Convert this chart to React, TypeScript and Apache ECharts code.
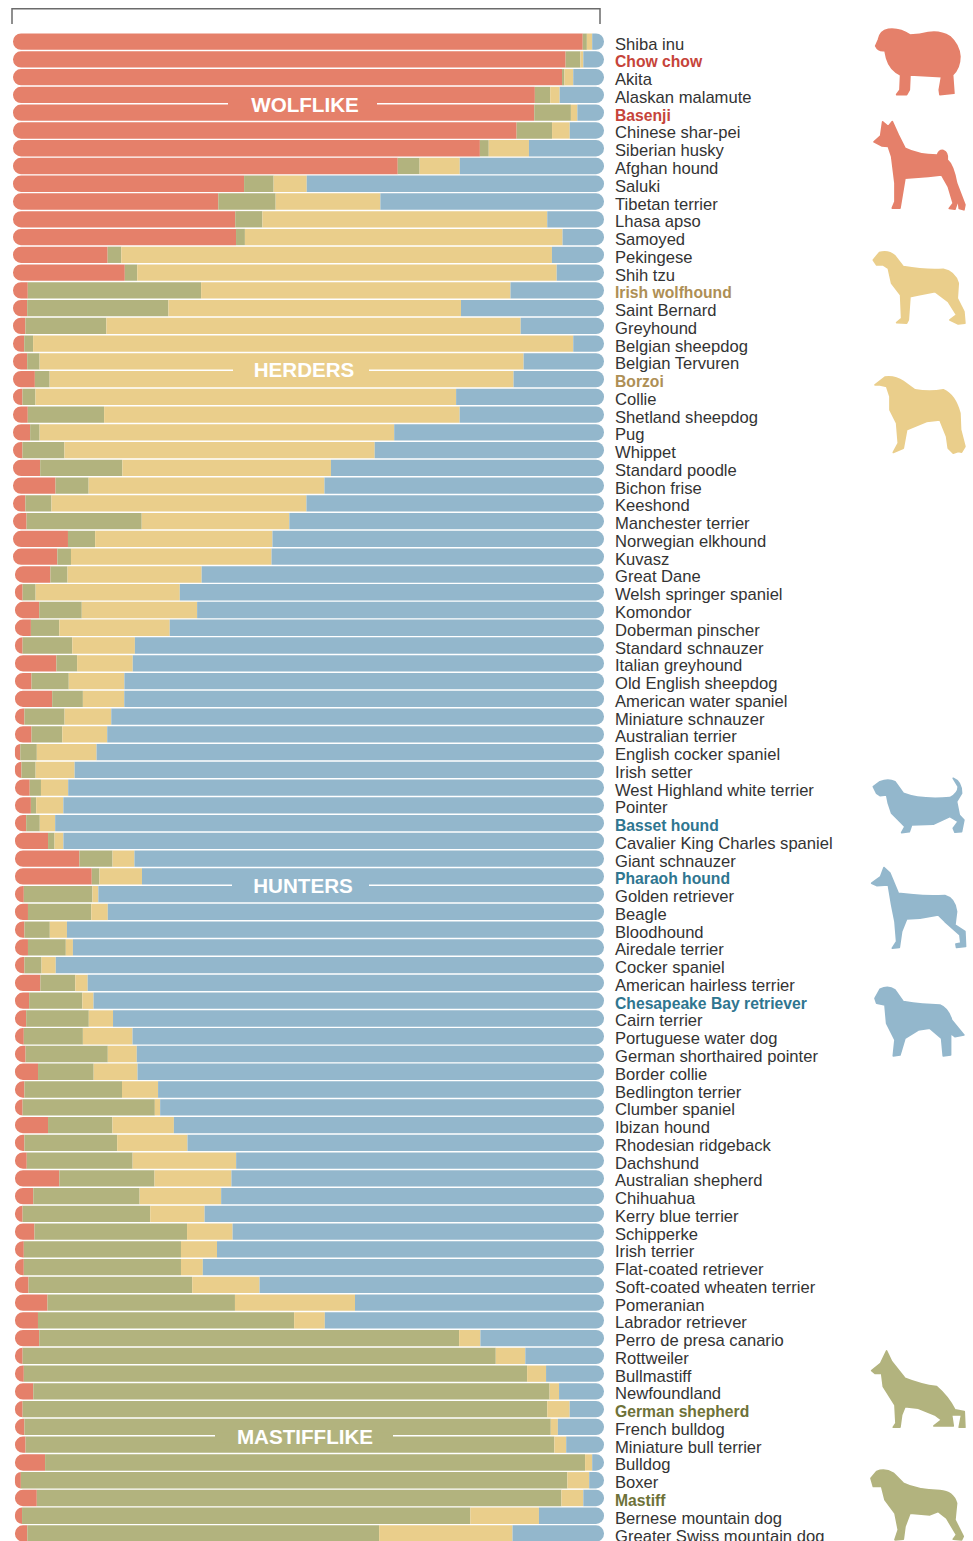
import React, { useEffect, useRef } from "react";
import * as echarts from "echarts";

const breeds = ["Shiba inu","Chow chow","Akita","Alaskan malamute","Basenji","Chinese shar-pei","Siberian husky","Afghan hound","Saluki","Tibetan terrier","Lhasa apso","Samoyed","Pekingese","Shih tzu","Irish wolfhound","Saint Bernard","Greyhound","Belgian sheepdog","Belgian Tervuren","Borzoi","Collie","Shetland sheepdog","Pug","Whippet","Standard poodle","Bichon frise","Keeshond","Manchester terrier","Norwegian elkhound","Kuvasz","Great Dane","Welsh springer spaniel","Komondor","Doberman pinscher","Standard schnauzer","Italian greyhound","Old English sheepdog","American water spaniel","Miniature schnauzer","Australian terrier","English cocker spaniel","Irish setter","West Highland white terrier","Pointer","Basset hound","Cavalier King Charles spaniel","Giant schnauzer","Pharaoh hound","Golden retriever","Beagle","Bloodhound","Airedale terrier","Cocker spaniel","American hairless terrier","Chesapeake Bay retriever","Cairn terrier","Portuguese water dog","German shorthaired pointer","Border collie","Bedlington terrier","Clumber spaniel","Ibizan hound","Rhodesian ridgeback","Dachshund","Australian shepherd","Chihuahua","Kerry blue terrier","Schipperke","Irish terrier","Flat-coated retriever","Soft-coated wheaten terrier","Pomeranian","Labrador retriever","Perro de presa canario","Rottweiler","Bullmastiff","Newfoundland","German shepherd","French bulldog","Miniature bull terrier","Bulldog","Boxer","Mastiff","Bernese mountain dog","Greater Swiss mountain dog"];

const wolflike = [96.4,93.6,92.9,88.3,88.2,85.3,79.0,65.1,39.1,34.7,37.6,37.7,16.0,18.9,2.5,2.4,2.1,1.9,2.4,3.7,1.6,2.5,2.9,1.6,4.6,7.2,2.1,2.3,9.3,7.5,6.0,1.3,4.1,2.7,1.3,7.0,2.8,6.3,1.6,2.8,0.9,1.1,2.5,2.7,1.9,5.6,10.9,13.0,1.5,2.2,1.6,2.2,1.6,4.3,2.4,1.9,1.5,1.8,3.9,1.6,1.3,5.6,1.6,2.0,7.5,3.1,1.3,3.3,1.5,1.5,2.3,5.5,3.9,4.1,1.3,1.5,3.1,1.3,1.6,1.8,5.1,1.0,3.7,1.2,2.1];
const mastifflike = [0.7,2.5,0.4,2.6,6.2,6.0,1.5,3.7,5.0,9.7,4.6,1.5,2.3,2.1,29.3,23.9,13.7,1.5,2.1,2.5,2.2,12.9,1.6,7.1,13.9,5.6,4.4,19.5,4.6,2.3,2.9,2.2,7.2,4.8,8.4,3.5,6.3,5.2,6.8,5.2,2.8,2.4,1.9,0.9,2.3,1.1,5.6,1.3,11.6,10.7,4.3,6.4,2.9,5.9,9.0,10.6,10.0,13.9,9.4,16.5,22.4,10.9,15.7,17.9,16.1,18.0,21.6,25.8,26.6,26.6,27.7,31.7,43.4,71.0,80.0,85.1,87.3,88.7,89.0,89.5,91.4,92.4,88.8,75.8,59.6];
const herders = [0.9,0.5,1.5,1.6,1.1,3.0,6.8,6.8,5.6,17.7,48.2,53.7,72.8,70.9,52.3,49.5,70.1,91.4,81.9,78.5,71.1,60.1,60.0,52.5,35.3,39.9,43.1,25.0,30.0,33.9,22.7,24.4,19.5,18.7,10.6,9.4,9.4,7.0,7.9,7.6,10.1,6.6,4.6,4.6,2.6,1.5,3.7,7.2,1.0,2.8,2.9,1.2,2.4,2.1,1.9,4.1,8.4,4.9,7.4,6.1,0.9,10.4,11.9,17.5,13.0,13.8,9.2,7.7,6.1,3.7,11.4,20.3,5.2,3.6,5.0,3.2,1.6,3.8,1.2,2.0,1.2,3.7,3.7,11.6,22.6];
const hunters = [2.0,3.5,5.2,7.5,4.5,5.8,12.7,24.4,50.3,37.8,9.6,7.0,8.8,8.0,15.8,24.2,14.1,5.2,13.6,15.3,25.0,24.4,35.5,38.8,46.2,47.3,50.3,53.3,56.1,56.2,68.1,71.8,68.8,73.5,79.4,79.6,81.1,81.2,83.4,84.0,85.8,89.6,90.6,91.6,92.8,91.5,79.4,78.2,85.5,83.9,90.9,89.8,92.7,87.3,86.4,83.1,79.8,79.0,78.8,75.4,75.2,72.8,70.5,62.2,63.0,64.8,67.6,62.8,65.5,67.9,58.3,42.1,47.3,20.9,13.3,9.8,7.6,5.8,7.8,6.4,2.0,2.5,3.5,11.0,15.5];

const highlights: Record<string, string> = {
  "Chow chow": "wolf", "Basenji": "wolf",
  "Irish wolfhound": "herd", "Borzoi": "herd",
  "Basset hound": "hunt", "Pharaoh hound": "hunt", "Chesapeake Bay retriever": "hunt",
  "German shepherd": "mast", "Mastiff": "mast",
};

const RED = "#E5806A";
const GREEN = "#B2B37E";
const YELLOW = "#EACE8B";
const BLUE = "#93B7CC";
const FONT = "'Liberation Sans', Arial, sans-serif";

const dogs: Record<string, string> = {
  dogChow: "M47 108 L55 90 Q60 62 85 58 Q120 54 150 75 Q180 75 205 68 Q240 62 270 80 Q298 105 300 140 Q300 175 278 195 L282 250 L240 254 L238 240 L245 200 L150 195 L148 240 L140 254 L110 254 L120 240 L122 195 Q90 180 80 145 L75 122 Q55 125 47 108 Z",
  dogBasenji: "M42 396 L62 378 L68 336 L85 350 L97 335 L115 375 L135 415 Q175 435 232 436 Q238 420 250 422 Q265 428 262 450 Q280 465 290 520 L315 585 L312 600 L298 596 L295 570 L285 598 L268 596 L280 580 L265 530 L245 495 L205 500 L135 505 L125 565 L120 595 L97 595 L105 575 L105 520 L95 440 L85 410 L65 408 Z",
  dogWolfhound: "M40 60 L58 38 Q85 30 105 48 L130 80 Q200 92 250 88 Q285 95 295 130 L292 175 L312 215 L315 250 L295 252 L270 240 L290 225 L265 185 L225 155 L175 165 L150 170 L145 240 L140 250 L110 248 L125 235 L122 165 L95 130 L85 85 L70 75 L50 75 Z",
  dogBorzoi: "M45 435 L75 412 Q105 408 130 425 L165 450 Q210 458 250 450 Q285 465 300 520 L302 570 L315 620 L305 637 L295 635 L280 640 L265 625 L260 590 L240 540 L200 545 L140 570 L130 625 L100 638 L115 610 L110 550 L90 510 L90 470 L80 440 L60 435 Z",
  dogBasset: "M40 65 L60 50 Q85 40 105 50 L130 85 Q180 105 270 98 Q295 85 295 65 L280 40 Q305 50 305 85 L290 110 L298 150 L312 165 L305 200 L285 202 L280 190 L295 170 L270 155 L220 178 L155 180 L148 200 L125 203 L135 185 L125 175 L95 145 L85 115 L80 90 L60 92 L50 85 Z",
  dogPharaoh: "M35 355 L62 335 L72 308 L90 325 L115 385 L160 390 Q205 395 255 392 Q285 400 290 440 L285 480 L315 500 L317 545 L290 548 L288 538 L303 535 L300 510 L255 470 L235 450 L180 460 L140 462 L125 500 L118 548 L97 550 L110 530 L105 470 L95 420 L85 360 L50 362 Z",
  dogChesapeake: "M45 85 L60 58 Q85 45 105 60 L130 95 Q190 105 240 105 Q265 115 275 150 L312 195 L285 200 L272 190 L272 255 L250 258 L245 205 L210 175 L175 180 L135 205 L120 255 L100 258 L105 210 L80 160 L75 105 L50 100 Z",
  dogShepherd: "M35 92 L62 70 L80 33 L95 65 L135 115 Q185 135 230 140 Q265 170 285 210 L313 215 L315 262 L298 262 L305 225 L275 225 L280 258 L222 258 L245 240 L225 225 L175 205 L135 200 L125 225 L120 262 L100 262 L108 250 L105 195 L70 140 L65 100 L45 100 Z",
  dogMastiff: "M33 415 L50 395 Q75 385 100 400 L130 430 Q170 450 240 452 Q280 455 290 490 L285 540 L310 590 L305 600 L280 598 L290 585 L260 535 L235 515 L210 525 L150 520 L135 560 L130 598 L105 600 L115 570 L105 520 L75 480 L65 440 L40 440 Z",
};
Object.entries(dogs).forEach(([name, d]) => {
  echarts.graphic.registerShape(name, echarts.graphic.extendPath(d, {}));
});

const dogPlacement: [string, number, string][] = [
  ["dogChow", 10, RED], ["dogBasenji", 10, RED],
  ["dogWolfhound", 240, YELLOW], ["dogBorzoi", 240, YELLOW],
  ["dogBasset", 765, BLUE], ["dogPharaoh", 765, BLUE],
  ["dogChesapeake", 970, BLUE],
  ["dogShepherd", 1340, GREEN], ["dogMastiff", 1340, GREEN],
];

const groupLabels: [string, number, number, number, number, string][] = [
  ["WOLFLIKE", 305, 104.3, 228, 377, RED],
  ["HERDERS", 304, 369, 233, 369, YELLOW],
  ["HUNTERS", 303, 885.3, 232, 369, BLUE],
  ["MASTIFFLIKE", 305, 1436.8, 215, 393, GREEN],
];

// Upper part of the stack starts flush; from Great Dane down the bars start slightly further right
const indentFrom = 30;
const indentValue = 0.33;
const lead = breeds.map((_, i) => (i >= indentFrom ? indentValue : 0));
const totals = breeds.map((_, i) => wolflike[i] + mastifflike[i] + herders[i] + hunters[i]);
const share = (arr: number[]) => arr.map((v, i) => (v / totals[i]) * (100 - lead[i]));

const BAR_H = 16.3;

function App() {
  const ref = useRef<HTMLDivElement>(null);
  useEffect(() => {
    const chart = echarts.init(ref.current!, undefined, { renderer: "svg" });
    const graphic: any[] = [
      {
        type: "polyline", z: 100,
        shape: { points: [[12, 24], [12, 8.8], [600, 8.8], [600, 24]] },
        style: { stroke: "#6b6b6b", lineWidth: 1.5, fill: "none" },
      },
    ];
    groupLabels.forEach(([text, cx, cy, x0, x1, fill]) => {
      graphic.push({
        type: "rect", z: 100,
        shape: { x: x0, y: cy - 4.5, width: x1 - x0, height: 10 },
        style: { fill },
      });
      graphic.push({
        type: "text", z: 101, x: cx, y: cy,
        style: {
          text, fill: "#ffffff", fontFamily: FONT, fontSize: 20.6, fontWeight: "bold",
          textAlign: "center", textVerticalAlign: "middle",
        },
      });
    });
    dogPlacement.forEach(([type, y, fill]) => {
      graphic.push({
        type, z: 100, x: 860, y, scaleX: 1 / 3, scaleY: 1 / 3,
        style: { fill, stroke: fill, lineWidth: 5, lineJoin: "round" },
      });
    });
    const seg = (name: string, data: number[], color: string, radius: any) => ({
      name, type: "bar", stack: "all", data, barWidth: BAR_H, barCategoryGap: 0, clip: false,
      itemStyle: { color, borderRadius: radius },
      emphasis: { disabled: true }, silent: true,
    });
    const rich: any = {
      n: { fontFamily: FONT, fontSize: 16.6, color: "#333333" },
      wolf: { fontFamily: FONT, fontSize: 15.7, fontWeight: "bold", color: "#C6443A" },
      herd: { fontFamily: FONT, fontSize: 15.7, fontWeight: "bold", color: "#AE8F55" },
      hunt: { fontFamily: FONT, fontSize: 15.7, fontWeight: "bold", color: "#2F7690" },
      mast: { fontFamily: FONT, fontSize: 15.7, fontWeight: "bold", color: "#6E7238" },
    };
    chart.setOption({
      animation: false,
      backgroundColor: "#ffffff",
      grid: { left: 13, top: 32.8, width: 591, height: 1509.6, containLabel: false, outerBoundsMode: "none" },
      xAxis: { type: "value", min: 0, max: 100, show: false },
      yAxis: {
        type: "category", inverse: true, position: "right", data: breeds,
        axisLine: { show: false }, axisTick: { show: false }, splitLine: { show: false },
        axisLabel: {
          interval: 0, margin: 11, align: "left", hideOverlap: false,
          padding: [5, 0, 0, 0],
          formatter: (v: string) => `{${highlights[v] || "n"}|${v}}`,
          rich,
        },
      },
      series: [
        { name: "indent", type: "bar", stack: "all", data: lead, barWidth: BAR_H, itemStyle: { color: "transparent" }, silent: true },
        seg("Wolflike", share(wolflike), RED, [8, 0, 0, 8]),
        seg("Mastifflike", share(mastifflike), GREEN, 0),
        seg("Herders", share(herders), YELLOW, 0),
        seg("Hunters", share(hunters), BLUE, [0, 8, 8, 0]),
      ],
      graphic,
    });
    return () => chart.dispose();
  }, []);
  return (
    <div
      ref={ref}
      style={{ position: "absolute", left: 0, top: 0, width: 973, height: 1541, overflow: "hidden" }}
    />
  );
}

export default App;
